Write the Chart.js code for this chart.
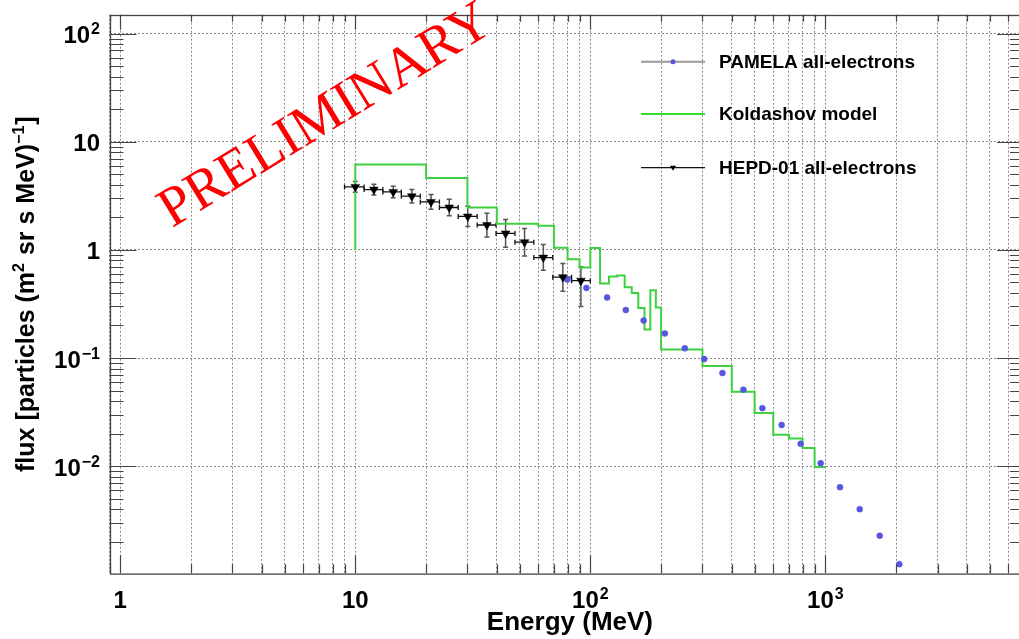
<!DOCTYPE html>
<html>
<head>
<meta charset="utf-8">
<script src="https://cdn.jsdelivr.net/npm/chart.js@4.4.1/dist/chart.umd.min.js"></script>
<style>
  html, body { margin: 0; padding: 0; background: #fff; overflow: hidden; }
  #wrap { position: relative; width: 1030px; height: 639px; }
</style>
</head>
<body>
<div id="wrap"><canvas id="fluxChart"></canvas></div>
<script>
// HEPD-01 all-electrons (bin centres, flux, error band, bin edges)
var hepdEnergy = [10.0, 12.0, 14.5, 17.4, 21.0, 25.1, 30.1, 36.3, 43.6, 52.5, 63.1, 76.4, 91.2];
var hepdFlux = [3.83, 3.62, 3.44, 3.14, 2.78, 2.47, 2.04, 1.70, 1.42, 1.18, 0.85, 0.56, 0.52];
var hepdFluxLow = [3.42, 3.23, 3.04, 2.72, 2.38, 2.07, 1.65, 1.32, 1.06, 0.88, 0.65, 0.415, 0.30];
var hepdFluxHigh = [4.29, 4.05, 3.89, 3.62, 3.25, 2.95, 2.53, 2.19, 1.91, 1.58, 1.12, 0.75, 0.70];
var hepdBinEdges = [9.0, 10.9, 13.1, 15.7, 18.9, 22.8, 27.4, 33.0, 39.7, 47.8, 57.5, 69.2, 83.2, 100];

// PAMELA all-electrons
var pamelaEnergy = [79.8, 96.2, 117.9, 141.6, 168.6, 207.6, 252.4, 305, 364.8, 447.9, 539.5, 651.7, 784.9, 955, 1154, 1400, 1703, 2064];
var pamelaFlux = [0.532, 0.445, 0.363, 0.278, 0.222, 0.169, 0.123, 0.0977, 0.0726, 0.0510, 0.0344, 0.0240, 0.0161, 0.01066, 0.00639, 0.0040, 0.00227, 0.00124];

// Koldashov model histogram
var koldEdges = [10, 20, 30, 40, 50, 60, 70, 80, 90, 100, 110, 120, 130, 140, 150, 160, 170, 180, 190, 200, 300, 400, 500, 600, 700, 800, 900, 1000];
var koldFlux = [6.18, 4.64, 2.47, 1.75, 1.75, 1.67, 1.05, 0.82, 0.687, 1.04, 0.489, 0.567, 0.580, 0.451, 0.400, 0.290, 0.184, 0.424, 0.293, 0.120, 0.0843, 0.0487, 0.0310, 0.0195, 0.0180, 0.0147, 0.0098];
var koldStart = 1;

// axes
var xRange = [0.9, 7000];
var yRange = [0.00102, 150];
var xLabelValues = [1, 10, 100, 1000];
var xLabelText = [['1', ''], ['10', ''], ['10', '2'], ['10', '3']];
var yLabelValues = [100, 10, 1, 0.1, 0.01];
var yLabelText = [['10', '2'], ['10', ''], ['1', ''], ['10', '\u22121'], ['10', '\u22122']];

var legendNames = ['PAMELA all-electrons', 'Koldashov model', 'HEPD-01 all-electrons'];

var FONT = '"Liberation Sans", Arial, Helvetica, sans-serif';

function logTicks(min, max) {
  var out = [];
  for (var e = -4; e <= 4; e++) {
    for (var m = 1; m < 10; m++) {
      var v = m * Math.pow(10, e);
      if (v >= min * 0.999 && v <= max * 1.001) out.push(v);
    }
  }
  return out;
}
function isDecade(v) {
  var l = Math.log10(v);
  return Math.abs(l - Math.round(l)) < 1e-6;
}

var koldPoints = [{x: koldEdges[0], y: koldStart}];
koldFlux.forEach(function (f, i) { koldPoints.push({x: koldEdges[i], y: f}); });
koldPoints.push({x: koldEdges[koldEdges.length - 1], y: koldFlux[koldFlux.length - 1]});

var pamelaPoints = pamelaEnergy.map(function (e, i) { return {x: e, y: pamelaFlux[i]}; });
var hepdPoints = hepdEnergy.map(function (e, i) { return {x: e, y: hepdFlux[i]}; });

// error bars for HEPD
var errorBars = {
  id: 'errorBars',
  beforeDatasetsDraw: function (chart) {
    var ctx = chart.ctx, xs = chart.scales.x, ys = chart.scales.y;
    ctx.save();
    hepdEnergy.forEach(function (e, i) {
      var px = xs.getPixelForValue(e), py = ys.getPixelForValue(hepdFlux[i]);
      var x0 = xs.getPixelForValue(hepdBinEdges[i]), x1 = xs.getPixelForValue(hepdBinEdges[i + 1]);
      var yl = ys.getPixelForValue(hepdFluxLow[i]), yh = ys.getPixelForValue(hepdFluxHigh[i]);
      ctx.strokeStyle = '#111';
      ctx.lineWidth = 1.3;
      ctx.beginPath();
      ctx.moveTo(x0, py); ctx.lineTo(x1, py);
      ctx.moveTo(x0, py - 2.5); ctx.lineTo(x0, py + 2.5);
      ctx.moveTo(x1, py - 2.5); ctx.lineTo(x1, py + 2.5);
      ctx.stroke();
      ctx.strokeStyle = '#555';
      ctx.lineWidth = 1.5;
      ctx.beginPath();
      ctx.moveTo(px, yl); ctx.lineTo(px, yh);
      ctx.moveTo(px - 2.5, yl); ctx.lineTo(px + 2.5, yl);
      ctx.moveTo(px - 2.5, yh); ctx.lineTo(px + 2.5, yh);
      ctx.stroke();
    });
    ctx.restore();
  }
};

function drawSupLabel(ctx, x, y, base, sup, align) {
  ctx.font = 'bold 24px ' + FONT;
  var wb = ctx.measureText(base).width;
  ctx.font = 'bold 16px ' + FONT;
  var ws = sup ? ctx.measureText(sup).width + 1 : 0;
  var total = wb + ws;
  var x0 = align === 'right' ? x - total : x - total / 2;
  ctx.textAlign = 'left';
  ctx.textBaseline = 'alphabetic';
  ctx.font = 'bold 24px ' + FONT;
  ctx.fillText(base, x0, y);
  if (sup) {
    ctx.font = 'bold 16px ' + FONT;
    ctx.fillText(sup, x0 + wb + 1, y - 9);
  }
}

// frame, inward ticks, labels, titles, legend, watermark
var decorations = {
  id: 'decorations',
  afterDraw: function (chart) {
    var ctx = chart.ctx, xs = chart.scales.x, ys = chart.scales.y, a = chart.chartArea;
    ctx.save();

    // ticks on all four sides
    ctx.strokeStyle = '#444';
    ctx.lineWidth = 1.2;
    ctx.beginPath();
    logTicks(xRange[0], xRange[1]).forEach(function (v) {
      var px = Math.round(xs.getPixelForValue(v)) + 0.5;
      var len = isDecade(v) ? 18 : 9;
      ctx.moveTo(px, a.bottom); ctx.lineTo(px, a.bottom - len);
      ctx.moveTo(px, a.top); ctx.lineTo(px, a.top + (isDecade(v) ? 15 : 7));
    });
    logTicks(yRange[0], yRange[1]).forEach(function (v) {
      var py = Math.round(ys.getPixelForValue(v)) + 0.5;
      var len = isDecade(v) ? 27 : 14;
      ctx.moveTo(a.left, py); ctx.lineTo(a.left + len, py);
      ctx.moveTo(a.right, py); ctx.lineTo(a.right - len, py);
    });
    ctx.stroke();

    // frame
    ctx.lineWidth = 1.3;
    ctx.strokeRect(Math.round(a.left) + 0.5, Math.round(a.top) + 0.5, a.right - a.left, a.bottom - a.top);

    // tick labels
    ctx.fillStyle = '#000';
    xLabelValues.forEach(function (v, i) {
      drawSupLabel(ctx, xs.getPixelForValue(v), 608, xLabelText[i][0], xLabelText[i][1], 'center');
    });
    yLabelValues.forEach(function (v, i) {
      drawSupLabel(ctx, 100, ys.getPixelForValue(v) + 9.5, yLabelText[i][0], yLabelText[i][1], 'right');
    });

    // x title
    ctx.font = 'bold 26px ' + FONT;
    ctx.textAlign = 'right';
    ctx.textBaseline = 'alphabetic';
    ctx.fillText('Energy (MeV)', 653, 630);

    // y title (rotated, with superscripts)
    ctx.save();
    ctx.translate(34, 472);
    ctx.rotate(-Math.PI / 2);
    ctx.textAlign = 'left';
    var parts = [['flux [particles (m', false], ['2', true], [' sr s MeV)', false], ['\u22121', true], [']', false]];
    var cx = 0;
    parts.forEach(function (p) {
      ctx.font = (p[1] ? 'bold 16px ' : 'bold 25px ') + FONT;
      ctx.fillText(p[0], cx, p[1] ? -10 : 0);
      cx += ctx.measureText(p[0]).width + (p[1] ? 1 : 0);
    });
    ctx.restore();

    // legend
    var rows = [61.7, 114, 167.7];
    var lx0 = 641, lx1 = 705, lxm = 673;
    ctx.lineWidth = 2;
    ctx.strokeStyle = '#999';
    ctx.beginPath(); ctx.moveTo(lx0, rows[0]); ctx.lineTo(lx1, rows[0]); ctx.stroke();
    ctx.fillStyle = '#5555dd';
    ctx.beginPath(); ctx.arc(lxm, rows[0], 2.5, 0, Math.PI * 2); ctx.fill();
    ctx.strokeStyle = '#33dd33';
    ctx.beginPath(); ctx.moveTo(lx0, rows[1]); ctx.lineTo(lx1, rows[1]); ctx.stroke();
    ctx.strokeStyle = '#111';
    ctx.lineWidth = 1.3;
    ctx.beginPath(); ctx.moveTo(lx0, rows[2]); ctx.lineTo(lx1, rows[2]); ctx.stroke();
    ctx.fillStyle = '#000';
    ctx.beginPath();
    ctx.moveTo(lxm - 3, rows[2] - 2); ctx.lineTo(lxm + 3, rows[2] - 2); ctx.lineTo(lxm, rows[2] + 3);
    ctx.closePath(); ctx.fill();
    ctx.font = 'bold 19px ' + FONT;
    ctx.textAlign = 'left';
    ctx.textBaseline = 'middle';
    legendNames.forEach(function (n, i) { ctx.fillText(n, 719, rows[i] + 1); });

    // watermark
    ctx.save();
    ctx.translate(324, 113);
    ctx.rotate(-31.5 * Math.PI / 180);
    ctx.fillStyle = '#ff0000';
    ctx.font = '56px "Liberation Serif", "Times New Roman", serif';
    ctx.textAlign = 'center';
    ctx.textBaseline = 'alphabetic';
    ctx.fillText('PRELIMINARY', 0, 19);
    ctx.restore();

    ctx.restore();
  }
};

new Chart(document.getElementById('fluxChart'), {
  type: 'scatter',
  data: {
    datasets: [{
      label: legendNames[1],
      data: koldPoints,
      showLine: true,
      stepped: true,
      borderColor: '#3fd03f',
      borderWidth: 2,
      pointRadius: 0,
      fill: false,
      order: 3
    }, {
      label: legendNames[0],
      data: pamelaPoints,
      pointRadius: 3,
      pointBackgroundColor: '#5555dd',
      pointBorderColor: '#5555dd',
      pointBorderWidth: 0.5,
      order: 2
    }, {
      label: legendNames[2],
      data: hepdPoints,
      pointStyle: 'triangle',
      pointRotation: 180,
      pointRadius: 5,
      pointBackgroundColor: '#000',
      pointBorderColor: '#000',
      pointBorderWidth: 0.5,
      order: 1
    }]
  },
  options: {
    responsive: true,
    maintainAspectRatio: false,
    animation: false,
    devicePixelRatio: 1,
    layout: { padding: { left: 109.5, top: 14.7, right: 6, bottom: 65.7 } },
    plugins: { legend: { display: false }, tooltip: { enabled: false } },
    scales: {
      x: {
        type: 'logarithmic',
        min: xRange[0],
        max: xRange[1],
        afterBuildTicks: function (s) { s.ticks = logTicks(xRange[0], xRange[1]).map(function (v) { return {value: v}; }); },
        afterFit: function (s) { s.height = 0; },
        ticks: { display: false },
        grid: { color: '#8a8a8a', lineWidth: 1, drawTicks: false },
        border: { display: false, dash: [2, 2] }
      },
      y: {
        type: 'logarithmic',
        min: yRange[0],
        max: yRange[1],
        afterBuildTicks: function (s) { s.ticks = logTicks(yRange[0], yRange[1]).map(function (v) { return {value: v}; }); },
        afterFit: function (s) { s.width = 0; },
        ticks: { display: false },
        grid: {
          color: function (c) { return c.tick && isDecade(c.tick.value) ? '#8a8a8a' : 'rgba(0,0,0,0)'; },
          lineWidth: 1,
          drawTicks: false
        },
        border: { display: false, dash: [2, 2] }
      }
    }
  },
  plugins: [errorBars, decorations]
});
</script>
</body>
</html>
